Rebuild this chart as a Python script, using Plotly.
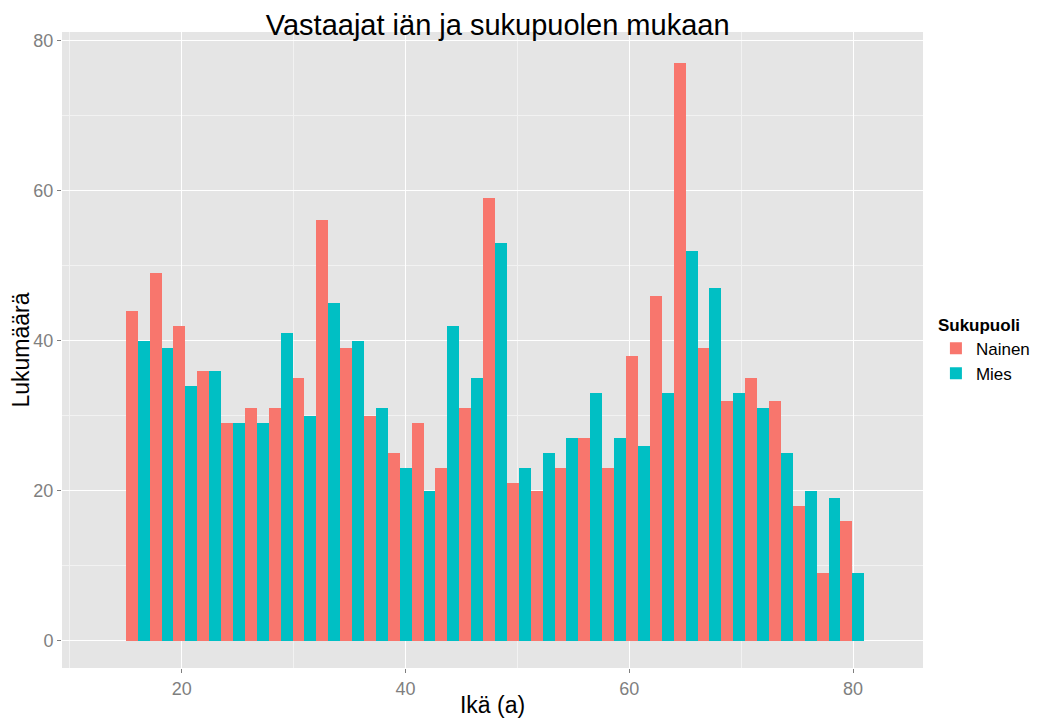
import plotly.graph_objects as go

# histogram bins: 31 bins of equal width from age 15 to 81
BIN_START = 15
BIN_END = 81
N_BINS = 31

nainen = [44, 49, 42, 36, 29, 31, 31, 35, 56, 39, 30, 25, 29, 23, 31, 59,
          21, 20, 23, 27, 23, 38, 46, 77, 39, 32, 35, 32, 18, 9, 16]
mies = [40, 39, 34, 36, 29, 29, 41, 30, 45, 40, 31, 23, 20, 42, 35, 53,
        23, 25, 27, 33, 27, 26, 33, 52, 47, 33, 31, 25, 20, 19, 9]

x_ticks = [20, 40, 60, 80]
y_ticks = [0, 20, 40, 60, 80]

GG_RED = "#F8766D"
GG_CYAN = "#00BFC4"
GREY50 = "#7F7F7F"

bin_width = (BIN_END - BIN_START) / N_BINS
centers = [BIN_START + bin_width * (i + 0.5) for i in range(N_BINS)]

fig = go.Figure()
fig.add_trace(go.Bar(x=centers, y=nainen, name="Nainen",
                     marker=dict(color=GG_RED, line=dict(width=0))))
fig.add_trace(go.Bar(x=centers, y=mies, name="Mies",
                     marker=dict(color=GG_CYAN, line=dict(width=0))))

font = "Liberation Sans, Arial, sans-serif"

# page body has an 8px margin, so the figure is 16px smaller than the window
fig.update_layout(
    width=1030,
    height=710,
    barmode="group",
    bargap=0,
    bargroupgap=0,
    paper_bgcolor="white",
    plot_bgcolor="#E5E5E5",
    margin=dict(l=54, r=115, t=24, b=50, autoexpand=False),
    font=dict(family=font, color="black"),
    title=dict(text="Vastaajat iän ja sukupuolen mukaan", x=0.506, xref="paper",
               xanchor="center", y=0.976, yref="container", yanchor="middle",
               font=dict(size=29, color="black")),
    legend=dict(
        title=dict(text="<b>Sukupuoli</b>", font=dict(size=17)),
        font=dict(size=17),
        x=1.015, xanchor="left", y=0.5, yanchor="middle",
        bgcolor="white", tracegroupgap=0,
    ),
)

fig.update_xaxes(
    automargin=False,
    range=[9.3, 86.25],
    tickvals=x_ticks,
    ticks="outside", ticklen=4, tickwidth=1, tickcolor=GREY50,
    tickfont=dict(size=18, color=GREY50),
    showgrid=True, gridcolor="white", gridwidth=1.2,
    minor=dict(tickvals=[10, 30, 50, 70], showgrid=True,
               gridcolor="#F2F2F2", gridwidth=0.6, ticklen=0),
    zeroline=False, showline=False,
    title=dict(text="Ikä (a)", font=dict(size=23, color="black"), standoff=4),
)
fig.update_yaxes(
    automargin=False,
    range=[-3.6, 81.1],
    tickvals=y_ticks,
    ticks="outside", ticklen=4, tickwidth=1, tickcolor=GREY50,
    tickfont=dict(size=18, color=GREY50),
    showgrid=True, gridcolor="white", gridwidth=1.2,
    minor=dict(tickvals=[10, 30, 50, 70], showgrid=True,
               gridcolor="#F2F2F2", gridwidth=0.6, ticklen=0),
    zeroline=False, showline=False,
    title=dict(text="Lukumäärä", font=dict(size=23, color="black"), standoff=4),
)

fig.write_html("out.html")
